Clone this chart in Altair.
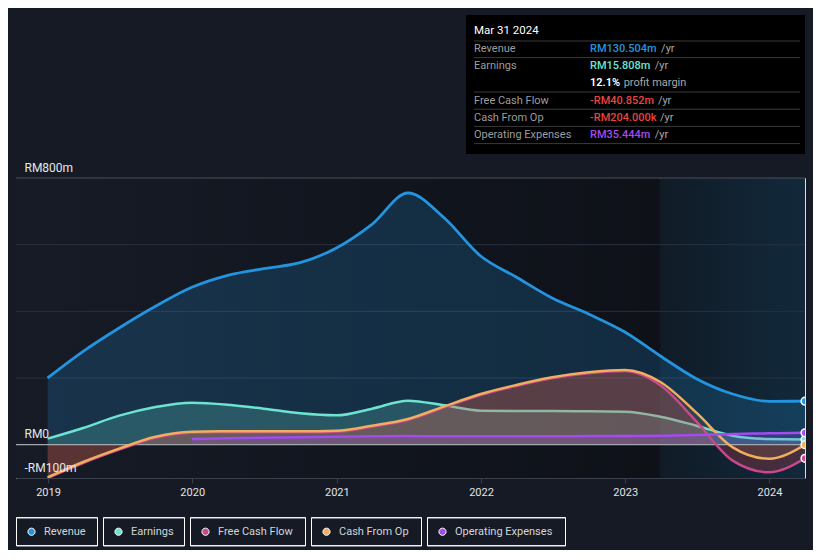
import altair as alt
import pandas as pd

# ---------------- data ----------------
dates = ["2018-12-31", "2019-03-31", "2019-06-30", "2019-09-30", "2019-12-31",
         "2020-03-31", "2020-06-30", "2020-09-30", "2020-12-31", "2021-03-31",
         "2021-06-30", "2021-09-30", "2021-12-31", "2022-03-31", "2022-06-30",
         "2022-09-30", "2022-12-31", "2023-03-31", "2023-06-30", "2023-09-30",
         "2023-12-31", "2024-03-31"]
revenue = [200, 280, 350, 415, 472, 508, 528, 546, 590, 661, 755, 680, 566, 503,
           440, 392, 338, 266, 198, 152, 130, 130.504]
earnings = [18, 50, 87, 113, 126, 120, 108, 94, 88, 108, 132, 118, 102, 101, 101,
            100, 99, 84, 57, 27, 17, 15.808]
free_cash_flow = [-100, -55, -15, 21, 36, 37, 37, 37, 39, 54, 74, 112, 149, 176,
                  199, 214, 221, 178, 70, -48, -83, -40.852]
cash_from_op = [-98, -52, -12, 24, 39, 40, 40, 40, 42, 57, 77, 115, 152, 179, 202,
                217, 224, 188, 96, -8, -42, -0.204]
operating_expenses = [None, None, None, None, 17, 19, 21, 22, 24, 25, 26, 25, 25,
                      25, 25, 26, 26, 27, 29, 32, 34, 35.444]

series_names = ["Revenue", "Earnings", "Free Cash Flow", "Cash From Op", "Operating Expenses"]
series_values = [revenue, earnings, free_cash_flow, cash_from_op, operating_expenses]
series_colors = ["#2394df", "#6de3d1", "#c8488b", "#f2ae5f", "#a24bef"]
fill_colors = ["#2394df", "#6de3d1", "#c8404f", "#f2ae5f", "#a24bef"]

y_label_values = [-100, 0, 800]
grid_values = [200, 400, 600]
top_value = [800]
zero_value = [0]

period_start = "2018-10-12"
past_end = "2023-03-31"
period_end = "2024-03-31"

tip_date = "Mar 31 2024"
tip_labels = ["Revenue", "Earnings", "", "Free Cash Flow", "Cash From Op", "Operating Expenses"]
tip_values = ["RM130.504m", "RM15.808m", "12.1%", "-RM40.852m", "-RM204.000k", "RM35.444m"]
tip_suffixes = ["/yr", "/yr", "profit margin", "/yr", "/yr", "/yr"]
tip_value_colors = ["#2394df", "#6de3d1", "#ffffff", "#e8453f", "#e8453f", "#a24bef"]

# ---------------- tables ----------------
rows = []
for name, vals, col in zip(series_names, series_values, series_colors):
    for d, v in zip(dates, vals):
        if v is not None:
            rows.append({"date": d, "series": name, "value": v, "hex": col})
df = pd.DataFrame(rows)
end_df = pd.DataFrame({"date": [dates[-1]] * len(series_names), "series": series_names,
                       "value": [v[-1] for v in series_values], "hex": series_colors})
legend_df = pd.DataFrame({"series": series_names})
one = pd.DataFrame({"k": [0]})

BG = "#151a25"
FONT = "Roboto"

x_scale = alt.Scale(type="utc", domain=[alt.DateTime(year=2018, month=10, date=12, utc=True),
                                        alt.DateTime(year=2024, month=3, date=31, utc=True)])
y_scale = alt.Scale(domain=[-100, 800], nice=False, zero=False)

x_axis = alt.Axis(format="%Y", tickCount={"interval": "year", "step": 1}, grid=False,
                  domainColor="#3a404b", tickColor="#3a404b", tickSize=5,
                  labelColor="#e3e3e3", labelFontSize=11, labelPadding=3, labelFont=FONT,
                  title=None, zindex=1, labelFlush=False)
y_axis = alt.Axis(values=y_label_values,
                  labelExpr="datum.value < 0 ? '-RM' + abs(datum.value) + 'm' : (datum.value == 0 ? 'RM0' : 'RM' + datum.value + 'm')",
                  grid=False, domain=False, ticks=False, labelAlign="left",
                  labelBaseline="alphabetic", labelPadding=-8, labelOffset=-7,
                  labelColor="#e6e6e6", labelFontSize=12, labelFont=FONT, title=None,
                  zindex=1, labelFlush=False, labelOverlap=False)


def X(field="date"):
    return alt.X(f"{field}:T", scale=x_scale, axis=x_axis, title=None)


def Y(field="value"):
    return alt.Y(f"{field}:Q", scale=y_scale, axis=y_axis, title=None)


layers = []

# background regions
bg_past = alt.Chart(pd.DataFrame({"s": [period_start], "e": [past_end], "lo": [-100], "hi": [800]})).mark_rect(
    fill=alt.LinearGradient(gradient="linear", x1=0, x2=1, y1=0, y2=0,
                            stops=[alt.GradientStop(offset=0, color="#161b26"),
                                   alt.GradientStop(offset=1, color="#0e1118")])
).encode(x=X("s"), x2="e:T", y=Y("lo"), y2="hi:Q")
bg_ltm = alt.Chart(pd.DataFrame({"s": [past_end], "e": [period_end], "lo": [-100], "hi": [800]})).mark_rect(
    fill=alt.LinearGradient(gradient="linear", x1=0, x2=1, y1=0, y2=0,
                            stops=[alt.GradientStop(offset=0, color="#101b26"),
                                   alt.GradientStop(offset=1, color="#12293b")])
).encode(x=X("s"), x2="e:T", y=Y("lo"), y2="hi:Q")
layers += [bg_past, bg_ltm]

# grid lines
grid = alt.Chart(pd.DataFrame({"v": grid_values})).mark_rule(color="#283040", strokeWidth=1).encode(y=Y("v"))
top = alt.Chart(pd.DataFrame({"v": top_value})).mark_rule(color="#4a4f59", strokeWidth=1).encode(y=Y("v"))
layers += [grid, top]

base = alt.Chart(df)
area_opacity = {"Revenue": 0.2, "Earnings": 0.22, "Free Cash Flow": 0.28,
                "Cash From Op": 0.11, "Operating Expenses": 0.2}


def area(name):
    return base.transform_filter(alt.datum.series == name).mark_area(
        interpolate="monotone", opacity=area_opacity[name], clip=True,
        color=fill_colors[series_names.index(name)]
    ).encode(x=X(), y=Y(), y2=alt.datum(0))


def line(name, w=2.5):
    return base.transform_filter(alt.datum.series == name).mark_line(
        interpolate="monotone", strokeWidth=w, clip=True,
        color=series_colors[series_names.index(name)]
    ).encode(x=X(), y=Y())


layers += [area("Revenue"), line("Revenue", 2.8), area("Earnings"), line("Earnings"),
           area("Free Cash Flow"), area("Cash From Op"), area("Operating Expenses")]

zero = alt.Chart(pd.DataFrame({"v": zero_value})).mark_rule(color="#a3a7ae", strokeWidth=1.3).encode(y=Y("v"))
layers += [zero, line("Free Cash Flow"), line("Cash From Op"), line("Operating Expenses")]

ends = alt.Chart(end_df).mark_point(filled=True, size=60, stroke="white", strokeWidth=1.5,
                                    opacity=1, clip=True).encode(
    x=X(), y=Y(), color=alt.Color("hex:N", scale=None))
layers.append(ends)

# ---------------- legend (boxed items) ----------------
legend_box_widths = [81, 81, 115, 110, 138]


def legend_path(w):
    r = 3.6
    l, rr, t, b = -15, w - 15, -14, 14
    return (f"M{-r},0A{r},{r} 0 1,1 {r},0A{r},{r} 0 1,1 {-r},0Z"
            f"M{l},{t}L{rr},{t}L{rr},{b}L{l},{b}Z"
            f"M{l},{t}L{l},{b}L{rr},{b}L{rr},{t}Z")


leg = alt.Legend(title=None, orient="none", legendX=10, legendY=348, direction="horizontal",
                 symbolSize=4, symbolStrokeWidth=1, symbolStrokeColor="#3b424e",
                 labelColor="#d2d5da", labelFont=FONT, labelFontSize=11, labelOffset=7,
                 columnPadding=1, symbolOffset=0, padding=0, labelLimit=200)
legend_layer = alt.Chart(legend_df).transform_filter("false").mark_point(
    filled=True, size=4, stroke="#3b424e", strokeWidth=1, opacity=1
).encode(
    color=alt.Color("series:N", scale=alt.Scale(domain=series_names, range=series_colors), legend=leg),
    shape=alt.Shape("series:N", scale=alt.Scale(domain=series_names,
                                                 range=[legend_path(w) for w in legend_box_widths]),
                    legend=leg),
)
layers.append(legend_layer)

# ---------------- tooltip box ----------------
layers.append(alt.Chart(one).mark_rect(color="#000000").encode(
    x=alt.value(450), x2=alt.value(789), y=alt.value(-163), y2=alt.value(-24)))

# approximate Roboto advance widths (em) to place the grey suffix after the coloured value
EM = {"R": 0.615, "M": 0.862, "m": 0.876, ".": 0.263, "-": 0.276, "k": 0.507, "%": 0.733, " ": 0.248}


def text_width(s, size, weight_factor=1.03):
    return sum(EM.get(c, 0.5615) for c in s) * size * weight_factor


def txt(text, x, y, color, size=11, weight="normal"):
    return alt.Chart(one).mark_text(text=text, align="left", baseline="middle", color=color,
                                    fontSize=size, fontWeight=weight, font=FONT).encode(
        x=alt.value(x), y=alt.value(y))


def sep(y):
    return alt.Chart(one).mark_rule(color="#3a3a3a", strokeWidth=1).encode(
        x=alt.value(458), x2=alt.value(784), y=alt.value(y))


layers.append(txt(tip_date, 458, -147, "#ffffff", 11.5, "normal"))
layers.append(sep(-137))
row_y0, row_h = -129, 17.2
for i, (lab, val, suf, col) in enumerate(zip(tip_labels, tip_values, tip_suffixes, tip_value_colors)):
    yy = row_y0 + i * row_h
    if lab:
        layers.append(txt(lab, 458, yy, "#9c9c9c", 11, "normal"))
    layers.append(txt(val, 574, yy, col, 11, 600 if i == 2 else 500))
    layers.append(txt(suf, 574 + text_width(val, 11) + 0.3 * 11, yy, "#a8a8a8", 11, "normal"))
    if i != 1:
        layers.append(sep(yy + 8.6))

chart = alt.layer(*layers).properties(
    width=789, height=300,
    autosize=alt.AutoSizeParams(type="none"),
    padding={"left": 8, "top": 170, "right": 8, "bottom": 72},
    background=BG,
).configure_view(stroke=None).configure(font=FONT)

chart.save("out.html", embed_options={"renderer": "svg", "actions": False})
